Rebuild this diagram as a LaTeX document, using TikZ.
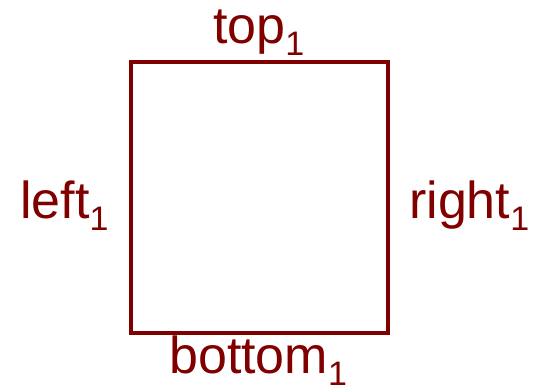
\documentclass[tikz,border=0pt]{standalone}
\usepackage{fontspec}
\setmainfont{Liberation Sans}
\definecolor{maroon}{HTML}{800000}
\newcommand{\subone}{\raisebox{-12pt}{\fontsize{34}{34}\selectfont 1}}
\begin{document}
\begin{tikzpicture}[x=1pt,y=-1pt,
  lbl/.style={anchor=base west,inner sep=0pt,text=maroon,font=\fontsize{52}{52}\selectfont},
  sq/.style={draw=maroon,line width=3.2pt,minimum width=257pt,minimum height=271pt,inner sep=0pt}]
\useasboundingbox (0,0) rectangle (537,391);
\node[sq] (box) at (259.5,197.5) {};
\node[lbl] (top) at (213,43) {top\subone};
\node[lbl] (left) at (20,218) {left\subone};
\node[lbl] (right) at (409,218) {right\subone};
\node[lbl] (bottom) at (169,373) {bottom\subone};
\end{tikzpicture}
\end{document}
